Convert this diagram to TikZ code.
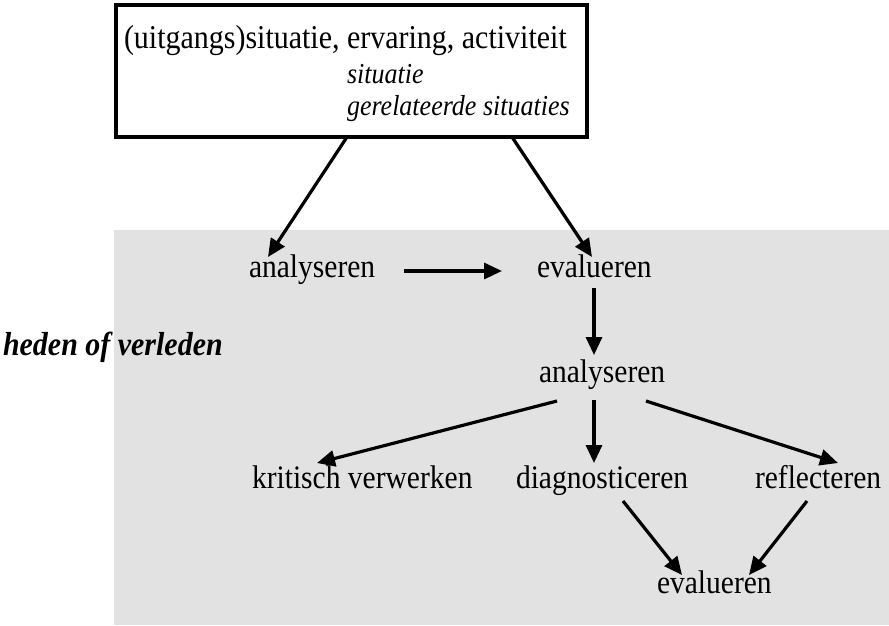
\documentclass[tikz,border=0pt]{standalone}
\usepackage{fontspec}
\setmainfont[FakeStretch=0.9]{Liberation Serif}
\usetikzlibrary{arrows.meta}
\definecolor{bggray}{RGB}{226,226,226}
\begin{document}
\begin{tikzpicture}[x=1pt,y=-1pt,
  lbl/.style={anchor=base west,inner sep=0pt,outer sep=0pt,font=\fontsize{32.8}{38}\selectfont},
  sublbl/.style={anchor=base west,inner sep=0pt,outer sep=0pt,font=\fontsize{28.9}{33}\selectfont\itshape},
  conn/.style={line width=3.2pt,-{Triangle[length=18pt,width=16pt]}}]
\useasboundingbox (0,0) rectangle (889,625);
\fill[white] (0,0) rectangle (889,625);
\fill[bggray] (114,230) rectangle (889,625);
\node[draw,line width=3.5pt,minimum width=471pt,minimum height=132pt,anchor=north west,inner sep=0pt,outer sep=0pt] (box) at (116,5) {};
\node[lbl,font=\fontsize{33.3}{38}\selectfont] (t1) at (124,48) {(uitgangs)situatie, ervaring, activiteit};
\node[sublbl] (t2) at (347,83) {situatie};
\node[sublbl] (t3) at (347,115) {gerelateerde situaties};
\node[lbl] (an1) at (249,277) {analyseren};
\node[lbl] (ev1) at (537,277) {evalueren};
\node[lbl] (an2) at (539,382) {analyseren};
\node[lbl] (kv) at (252,488) {kritisch verwerken};
\node[lbl] (dg) at (516,488) {diagnosticeren};
\node[lbl] (rf) at (755,488) {reflecteren};
\node[lbl] (ev2) at (657,593) {evalueren};
\node[lbl,font=\fontsize{33.3}{38}\selectfont\bfseries\itshape] (hv) at (3,355) {heden of verleden};
\draw[conn] ([shift={(231,0)}]box.south west) -- ([shift={(19,-20)}]an1.base west);
\draw[conn] ([shift={(396,0)}]box.south west) -- ([shift={(55,-20)}]ev1.base west);
\draw[conn] ([shift={(155,-6)}]an1.base west) -- ([shift={(-35,-6)}]ev1.base west);
\draw[conn] ([shift={(57,11)}]ev1.base west) -- ([shift={(55,-27)}]an2.base west);
\draw[conn] ([shift={(18,19)}]an2.base west) -- ([shift={(65,-25)}]kv.base west);
\draw[conn] ([shift={(55,18)}]an2.base west) -- ([shift={(78,-25)}]dg.base west);
\draw[conn] ([shift={(107,19)}]an2.base west) -- ([shift={(83,-25)}]rf.base west);
\draw[conn] ([shift={(107,13)}]dg.base west) -- ([shift={(25,-18)}]ev2.base west);
\draw[conn] ([shift={(52,13)}]rf.base west) -- ([shift={(92,-18)}]ev2.base west);
\end{tikzpicture}
\end{document}
